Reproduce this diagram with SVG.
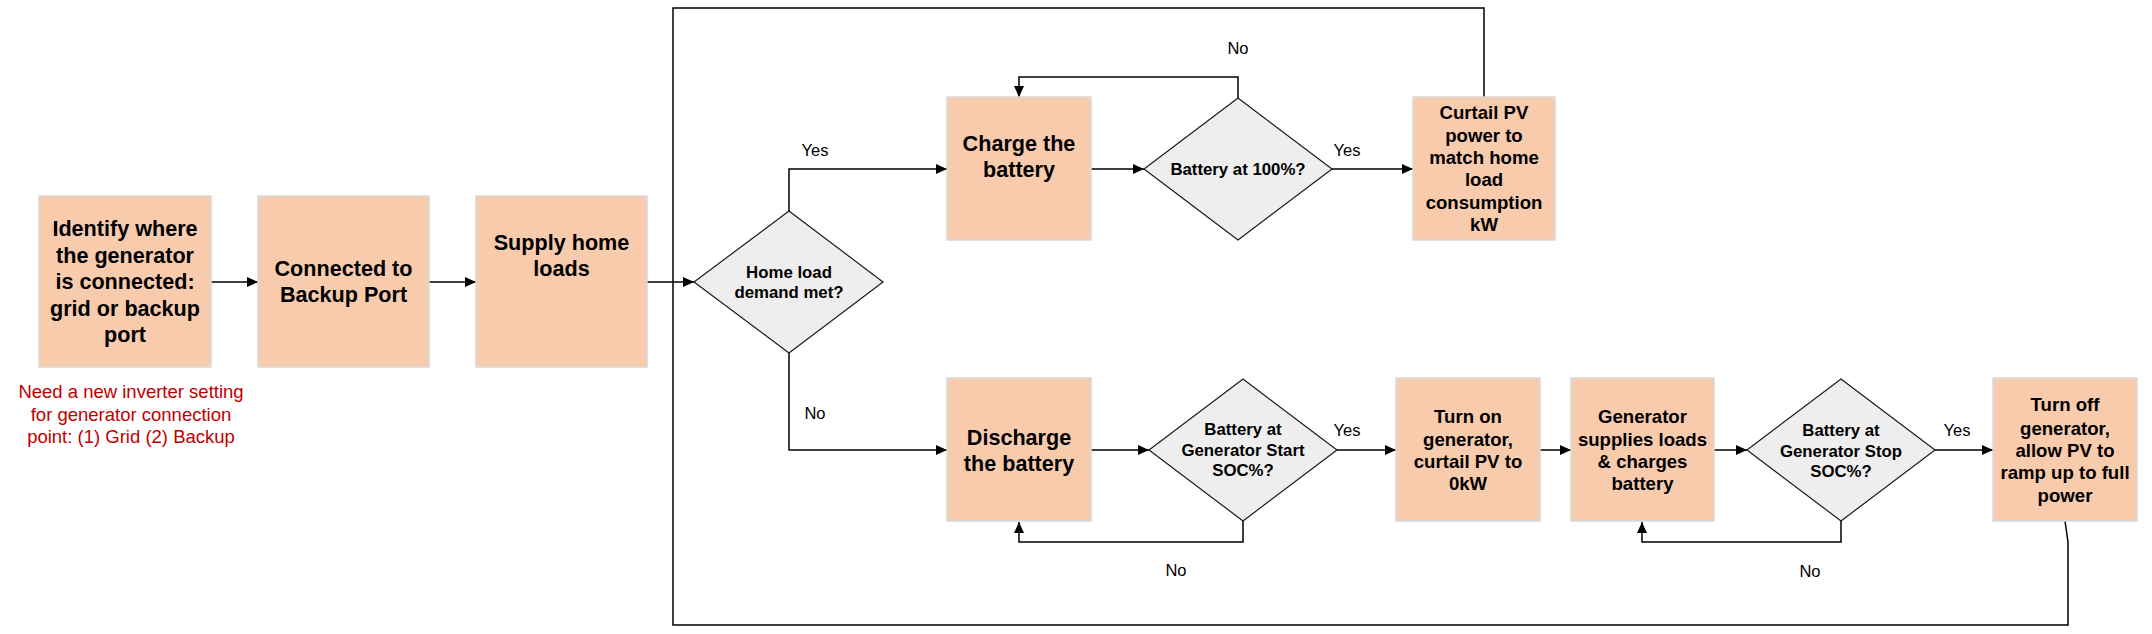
<svg xmlns="http://www.w3.org/2000/svg" width="2152" height="634" viewBox="0 0 2152 634">
<style>
.box{fill:#F8CBAD;stroke:#D9D9D9;stroke-width:1.5}
.dia{fill:#EEEEEE;stroke:#1A1A1A;stroke-width:1.2}
.bt{font-family:"Liberation Sans",Arial,sans-serif;font-weight:bold;fill:#000;text-anchor:middle}
.big{font-size:21.6px}
.mid{font-size:18.6px}
.dt{font-size:16.8px}
.lbl{font-family:"Liberation Sans",Arial,sans-serif;font-size:16.5px;fill:#000;text-anchor:middle}
.note{font-family:"Liberation Sans",Arial,sans-serif;font-size:18.5px;fill:#C00000;text-anchor:middle}
.c{fill:none;stroke:#000;stroke-width:1.5}
</style>
<defs>
<marker id="ah" markerUnits="userSpaceOnUse" markerWidth="11" markerHeight="10" refX="11" refY="5" orient="auto">
<path d="M0,0 L11,5 L0,10 z" fill="#000"/>
</marker>
</defs>
<rect width="2152" height="634" fill="#fff"/>

<g id="connectors">
<path class="c" d="M211,282 H258" marker-end="url(#ah)"/>
<path class="c" d="M429,282 H476" marker-end="url(#ah)"/>
<path class="c" d="M647,282 H694" marker-end="url(#ah)"/>
<path class="c" d="M789,211 V169 H947" marker-end="url(#ah)"/>
<path class="c" d="M789,353 V450 H947" marker-end="url(#ah)"/>
<path class="c" d="M1091,169 H1144" marker-end="url(#ah)"/>
<path class="c" d="M1238,98 V77 H1019 V97" marker-end="url(#ah)"/>
<path class="c" d="M1332,169 H1413" marker-end="url(#ah)"/>
<path class="c" d="M1484,97 V8 H673 V625 H2068 V542 L2065,521"/>
<path class="c" d="M1091,450 H1149" marker-end="url(#ah)"/>
<path class="c" d="M1243,521 V542 H1019 V522" marker-end="url(#ah)"/>
<path class="c" d="M1337,450 H1396" marker-end="url(#ah)"/>
<path class="c" d="M1540,450 H1571" marker-end="url(#ah)"/>
<path class="c" d="M1714,450 H1747" marker-end="url(#ah)"/>
<path class="c" d="M1841,521 V542 H1642 V522" marker-end="url(#ah)"/>
<path class="c" d="M1935,450 H1993" marker-end="url(#ah)"/>
<text class="lbl" x="815" y="156">Yes</text>
<text class="lbl" x="815" y="419">No</text>
<text class="lbl" x="1238" y="54">No</text>
<text class="lbl" x="1347" y="156">Yes</text>
<text class="lbl" x="1347" y="436">Yes</text>
<text class="lbl" x="1176" y="576">No</text>
<text class="lbl" x="1957" y="436">Yes</text>
<text class="lbl" x="1810" y="577">No</text>
</g>

<g id="identify">
<rect class="box" x="39" y="196" width="172" height="171"/>
<text class="bt big" x="125"><tspan x="125" y="236">Identify where</tspan><tspan x="125" y="263">the generator</tspan><tspan x="125" y="289">is connected:</tspan><tspan x="125" y="316">grid or backup</tspan><tspan x="125" y="342">port</tspan></text>
</g>
<g id="note">
<text class="note"><tspan x="131" y="398">Need a new inverter setting</tspan><tspan x="131" y="421">for generator connection</tspan><tspan x="131" y="443">point: (1) Grid (2) Backup</tspan></text>
</g>
<g id="connected">
<rect class="box" x="258" y="196" width="171" height="171"/>
<text class="bt big"><tspan x="343.5" y="276">Connected to</tspan><tspan x="343.5" y="302">Backup Port</tspan></text>
</g>
<g id="supply">
<rect class="box" x="476" y="196" width="171" height="171"/>
<text class="bt big"><tspan x="561.5" y="250">Supply home</tspan><tspan x="561.5" y="276">loads</tspan></text>
</g>
<g id="homeload">
<polygon class="dia" points="789,211 883,282 789,353 694,282"/>
<text class="bt dt"><tspan x="789" y="278">Home load</tspan><tspan x="789" y="298">demand met?</tspan></text>
</g>
<g id="charge">
<rect class="box" x="947" y="97" width="144" height="143"/>
<text class="bt big"><tspan x="1019" y="151">Charge the</tspan><tspan x="1019" y="177">battery</tspan></text>
</g>
<g id="bat100">
<polygon class="dia" points="1238,98 1332,169 1238,240 1144,169"/>
<text class="bt dt" x="1238" y="175">Battery at 100%?</text>
</g>
<g id="curtail">
<rect class="box" x="1413" y="97" width="142" height="143"/>
<text class="bt mid"><tspan x="1484" y="119">Curtail PV</tspan><tspan x="1484" y="142">power to</tspan><tspan x="1484" y="164">match home</tspan><tspan x="1484" y="186">load</tspan><tspan x="1484" y="209">consumption</tspan><tspan x="1484" y="231">kW</tspan></text>
</g>
<g id="discharge">
<rect class="box" x="947" y="378" width="144" height="143"/>
<text class="bt big"><tspan x="1019" y="445">Discharge</tspan><tspan x="1019" y="471">the battery</tspan></text>
</g>
<g id="genstart">
<polygon class="dia" points="1243,379 1337,450 1243,521 1149,450"/>
<text class="bt dt"><tspan x="1243" y="435">Battery at</tspan><tspan x="1243" y="456">Generator Start</tspan><tspan x="1243" y="476">SOC%?</tspan></text>
</g>
<g id="turnon">
<rect class="box" x="1396" y="378" width="144" height="143"/>
<text class="bt mid"><tspan x="1468" y="423">Turn on</tspan><tspan x="1468" y="446">generator,</tspan><tspan x="1468" y="468">curtail PV to</tspan><tspan x="1468" y="490">0kW</tspan></text>
</g>
<g id="gensupplies">
<rect class="box" x="1571" y="378" width="143" height="143"/>
<text class="bt mid"><tspan x="1642.5" y="423">Generator</tspan><tspan x="1642.5" y="446">supplies loads</tspan><tspan x="1642.5" y="468">&amp; charges</tspan><tspan x="1642.5" y="490">battery</tspan></text>
</g>
<g id="genstop">
<polygon class="dia" points="1841,379 1935,450 1841,521 1747,450"/>
<text class="bt dt"><tspan x="1841" y="436">Battery at</tspan><tspan x="1841" y="457">Generator Stop</tspan><tspan x="1841" y="477">SOC%?</tspan></text>
</g>
<g id="turnoff">
<rect class="box" x="1993" y="378" width="144" height="143"/>
<text class="bt mid"><tspan x="2065" y="411">Turn off</tspan><tspan x="2065" y="435">generator,</tspan><tspan x="2065" y="457">allow PV to</tspan><tspan x="2065" y="479">ramp up to full</tspan><tspan x="2065" y="502">power</tspan></text>
</g>
</svg>
